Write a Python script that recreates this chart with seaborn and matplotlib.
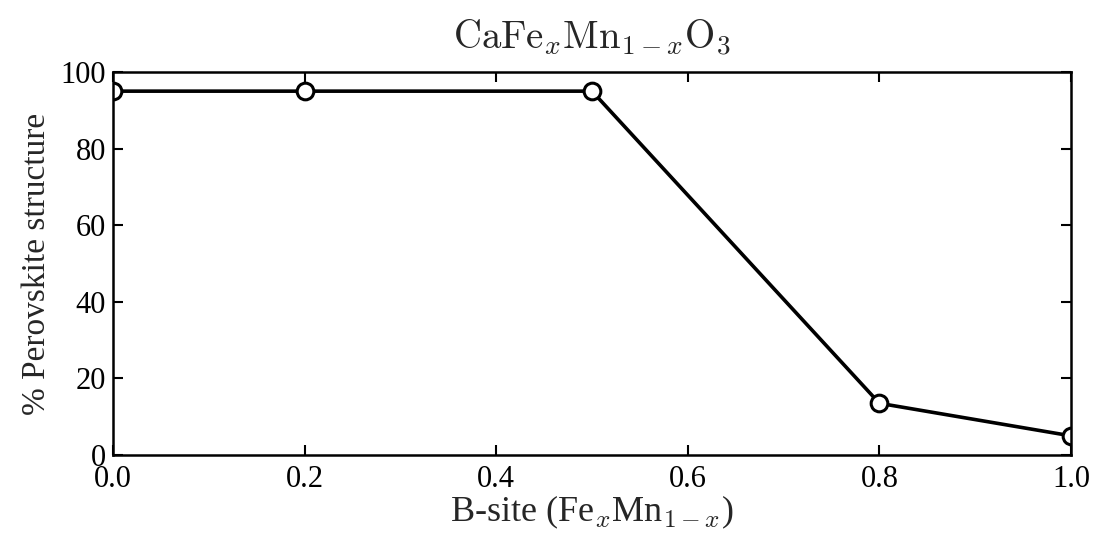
import matplotlib
matplotlib.use("Agg")
import matplotlib.pyplot as plt
import seaborn as sns
import pandas as pd

x_vals = [0.0, 0.2, 0.5, 0.8, 1.0]
perovskite_pct = [95, 95, 95, 13.5, 5]
x_ticks = [0.0, 0.2, 0.4, 0.6, 0.8, 1.0]
y_ticks = [0, 20, 40, 60, 80, 100]

sns.set_theme(style="ticks")
plt.rcParams['font.family'] = ['Liberation Serif', 'DejaVu Serif']
plt.rcParams['mathtext.fontset'] = 'cm'
plt.rcParams['xtick.direction'] = 'in'
plt.rcParams['ytick.direction'] = 'in'

df = pd.DataFrame({"x": x_vals, "y": perovskite_pct})

fig = plt.figure(figsize=(10.93, 5.35), dpi=100)
ax = fig.add_axes([113/1093, 1-455/535, (1071-113)/1093, (455-72)/535])
sns.lineplot(data=df, x="x", y="y", ax=ax, color="black", linewidth=2.6,
             marker="o", markersize=12, markerfacecolor="white",
             markeredgecolor="black", markeredgewidth=2.2)
ax.set_xlim(0, 1)
ax.set_ylim(0, 100)
ax.set_xticks(x_ticks)
ax.set_yticks(y_ticks)
ax.set_xticklabels([f"{t:.1f}" for t in x_ticks])
ax.tick_params(axis='both', which='major', labelsize=22, length=7, width=1.5,
               top=True, right=True, colors='black')
ax.tick_params(axis='x', pad=7)
ax.tick_params(axis='y', pad=5)
for s in ax.spines.values():
    s.set_linewidth(1.8)
    s.set_color('black')
ax.set_xlabel(r"B-site (Fe$_x$Mn$_{1-x}$)", fontsize=26, labelpad=0)
ax.set_ylabel("% Perovskite structure", fontsize=24, labelpad=6)
ax.set_title(r"$\mathrm{CaFe}_x\mathrm{Mn}_{1-x}\mathrm{O}_3$", fontsize=28, pad=17)
fig.savefig("out.png", dpi=100)
